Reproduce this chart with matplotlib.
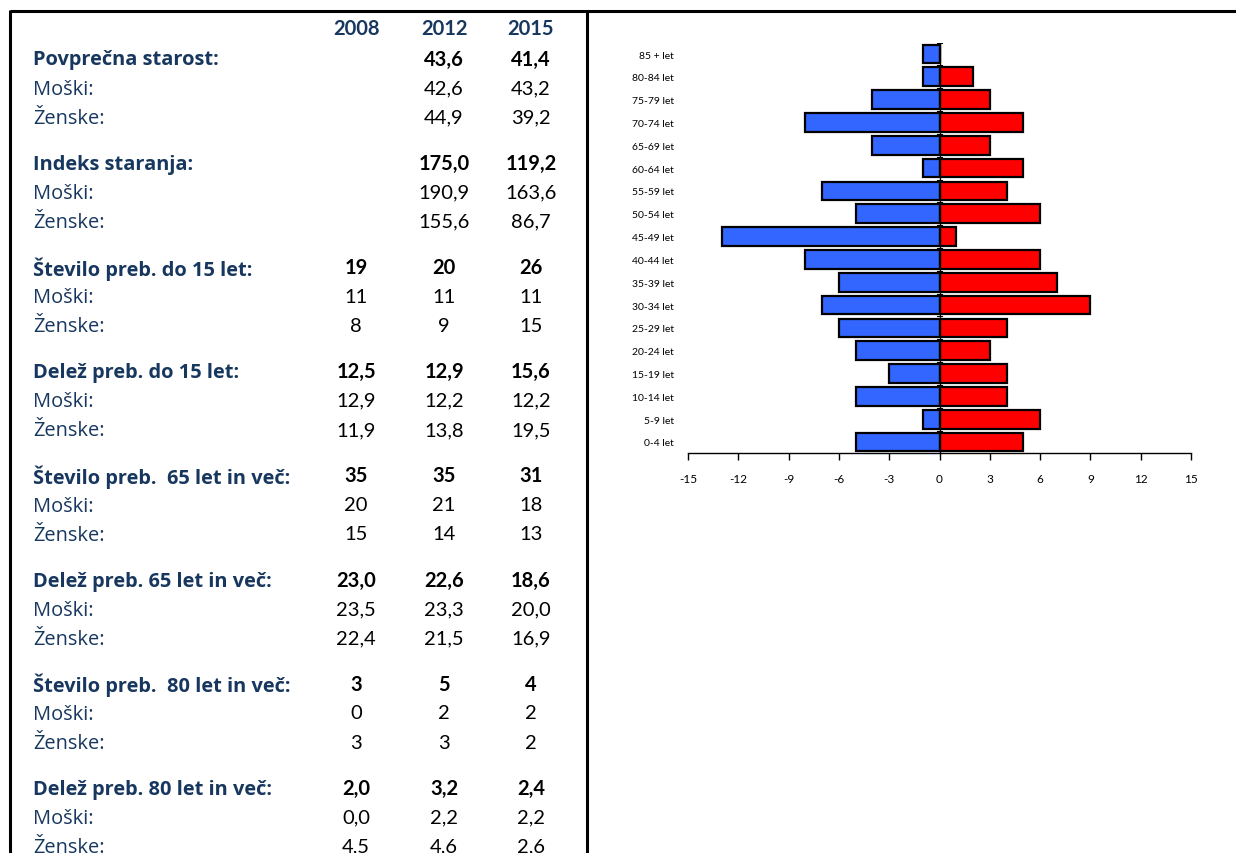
import matplotlib
matplotlib.use("Agg")
import matplotlib.pyplot as plt
import numpy as np

# ---------------- data ----------------
years = ["2008", "2012", "2015"]

section_titles = [
    "Povprečna starost:",
    "Indeks staranja:",
    "Število preb. do 15 let:",
    "Delež preb. do 15 let:",
    "Število preb.  65 let in več:",
    "Delež preb. 65 let in več:",
    "Število preb.  80 let in več:",
    "Delež preb. 80 let in več:",
]
sub_labels = ["Moški:", "Ženske:"]

# None = no value shown
total_vals = [
    [None, 43.6, 41.4],
    [None, 175.0, 119.2],
    [19, 20, 26],
    [12.5, 12.9, 15.6],
    [35, 35, 31],
    [23.0, 22.6, 18.6],
    [3, 5, 4],
    [2.0, 3.2, 2.4],
]
male_vals = [
    [None, 42.6, 43.2],
    [None, 190.9, 163.6],
    [11, 11, 11],
    [12.9, 12.2, 12.2],
    [20, 21, 18],
    [23.5, 23.3, 20.0],
    [0, 2, 2],
    [0.0, 2.2, 2.2],
]
female_vals = [
    [None, 44.9, 39.2],
    [None, 155.6, 86.7],
    [8, 9, 15],
    [11.9, 13.8, 19.5],
    [15, 14, 13],
    [22.4, 21.5, 16.9],
    [3, 3, 2],
    [4.5, 4.6, 2.6],
]
decimals = [1, 1, 0, 1, 0, 1, 0, 1]

age_groups = ["0-4 let", "5-9 let", "10-14 let", "15-19 let", "20-24 let",
              "25-29 let", "30-34 let", "35-39 let", "40-44 let", "45-49 let",
              "50-54 let", "55-59 let", "60-64 let", "65-69 let", "70-74 let",
              "75-79 let", "80-84 let", "85 + let"]
males = [-5, -1, -5, -3, -5, -6, -7, -6, -8, -13, -5, -7, -1, -4, -8, -4, -1, -1]
females = [5, 6, 4, 4, 3, 4, 9, 7, 6, 1, 6, 4, 5, 3, 5, 3, 2, 0]
x_ticks = [-15, -12, -9, -6, -3, 0, 3, 6, 9, 12, 15]

# ---------------- layout ----------------
W, H = 1236, 854
fig = plt.figure(figsize=(W / 100, H / 100), dpi=100)
fig.patch.set_facecolor("white")

LABEL_FONT = "Open Sans"
NUM_FONT = "Lato"
NAVY = "#17375E"


def fx(x):
    return x / W


def fy(y):
    return 1 - y / H


# frame lines
frame = fig.add_axes([0, 0, 1, 1], zorder=-1)
frame.set_xlim(0, W)
frame.set_ylim(H, 0)
frame.axis("off")
frame.plot([10, W], [12, 12], color="black", lw=2.2, solid_capstyle="butt")
frame.plot([10, 10], [11, H], color="black", lw=2.2, solid_capstyle="butt")
frame.plot([587, 587], [11, H], color="black", lw=2.2, solid_capstyle="butt")

col_x = [356, 444, 531]
label_x = 33
fs_lab = 14.4
fs_num = 14.5


def fmt(v, d):
    if v is None:
        return ""
    s = f"{v:.{d}f}"
    return s.replace(".", ",")


for cx, yr in zip(col_x, years):
    fig.text(fx(cx), fy(29), yr, ha="center", va="center", fontsize=fs_num,
             fontweight="bold", color=NAVY, family=NUM_FONT)

group_y0 = 59.5
group_step = 104.2
row_step = 29.2
lab_off = 1.0
for i, title in enumerate(section_titles):
    y0 = group_y0 + i * group_step
    fig.text(fx(label_x), fy(y0 + lab_off), title, ha="left", va="center",
             fontsize=fs_lab, fontweight="bold", color=NAVY,
             family=LABEL_FONT)
    for j, lab in enumerate(sub_labels):
        fig.text(fx(label_x), fy(y0 + (j + 1) * row_step + lab_off), lab,
                 ha="left", va="center", fontsize=fs_lab, color=NAVY,
                 family=LABEL_FONT)
    for k, cx in enumerate(col_x):
        fig.text(fx(cx), fy(y0), fmt(total_vals[i][k], decimals[i]),
                 ha="center", va="center", fontsize=fs_num, fontweight="bold",
                 color="black", family=NUM_FONT)
        fig.text(fx(cx), fy(y0 + row_step), fmt(male_vals[i][k], decimals[i]),
                 ha="center", va="center", fontsize=fs_num, color="black",
                 family=NUM_FONT)
        fig.text(fx(cx), fy(y0 + 2 * row_step),
                 fmt(female_vals[i][k], decimals[i]), ha="center",
                 va="center", fontsize=fs_num, color="black", family=NUM_FONT)

# ---------------- pyramid chart ----------------
ax_left, ax_right = 688, 1191
ax_top, ax_bot = 43.6, 454.4
ax = fig.add_axes([fx(ax_left), fy(ax_bot), (ax_right - ax_left) / W,
                   (ax_bot - ax_top) / H])
ypos = np.arange(len(age_groups))
ax.barh(ypos, males, height=0.82, color="#3366FF", edgecolor="black",
        linewidth=1.6, zorder=2)
ax.barh(ypos, females, height=0.82, color="#FF0000", edgecolor="black",
        linewidth=1.6, zorder=2)
ax.set_xlim(-15, 15)
ax.set_ylim(-0.5, len(age_groups) - 0.5)
ax.axvline(0, color="black", lw=0.9, zorder=3)
# tick marks on the zero axis at category boundaries
for b in np.arange(-0.5, len(age_groups), 1.0):
    ax.plot([-0.12, 0.12], [b, b], color="black", lw=0.8, zorder=1)

for s in ["top", "right", "left"]:
    ax.spines[s].set_visible(False)
ax.spines["bottom"].set_linewidth(1.0)
ax.set_xticks(x_ticks)
ax.set_xticklabels([str(t) for t in x_ticks], fontsize=8.5, family=NUM_FONT)
ax.tick_params(axis="x", direction="out", length=5, width=1.0, pad=9)
ax.set_yticks(ypos)
ax.set_yticklabels(age_groups, fontsize=7.5, family=NUM_FONT)
ax.tick_params(axis="y", length=0, pad=10)
ax.patch.set_alpha(0)

fig.savefig("out.png", dpi=100, facecolor="white")
